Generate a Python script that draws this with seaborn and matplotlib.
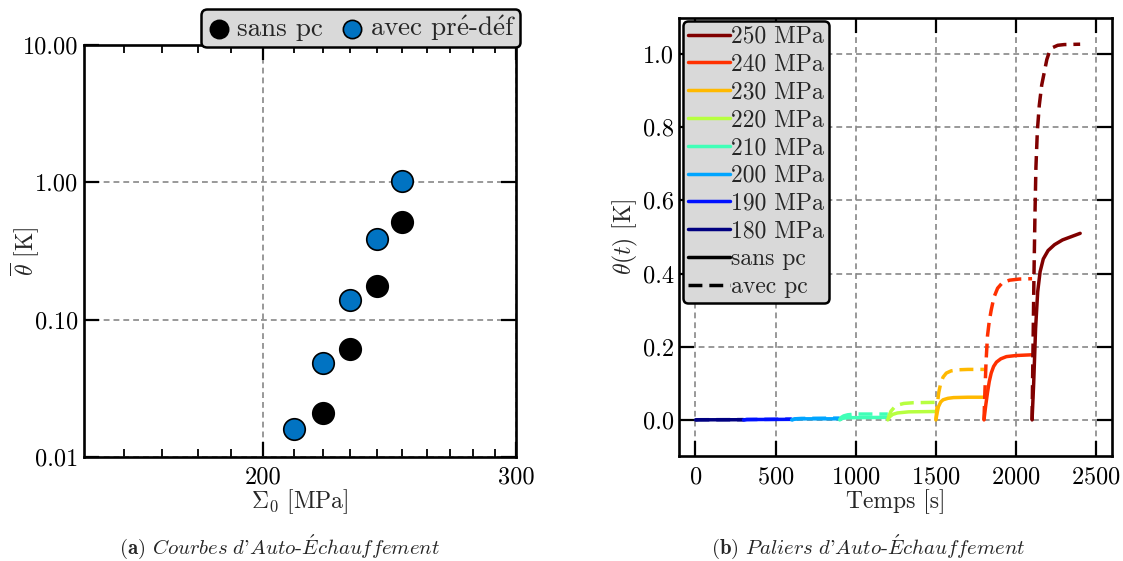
import numpy as np
import matplotlib
matplotlib.use("Agg")
import matplotlib.pyplot as plt
import matplotlib.ticker as mticker
from matplotlib.lines import Line2D
import seaborn as sns

# --- (a) self-heating curves: mean temperature vs stress amplitude ---
stress_sans = [220, 230, 240, 250]
theta_sans = [0.021, 0.061, 0.176, 0.51]
stress_avec = [210, 220, 230, 240, 250]
theta_avec = [0.016, 0.048, 0.138, 0.385, 1.027]

# --- (b) temperature steps, one block of 300 s per stress level ---
levels = [180, 190, 200, 210, 220, 230, 240, 250]
t_sans = [
    [0, 20, 300],
    [300, 320, 600],
    [600, 620, 650, 900],
    [900, 915, 950, 1200],
    [1200, 1210, 1230, 1260, 1330, 1500],
    [1500, 1508, 1516, 1530, 1545, 1575, 1610, 1700, 1800],
    [1800, 1811, 1822, 1833, 1845, 1860, 1878, 1905, 1940, 2000, 2100],
    [2100, 2110, 2122, 2135, 2150, 2170, 2200, 2240, 2290, 2345, 2400],
]
th_sans = [
    [0, 0.0003, 0.0005],
    [0, 0.001, 0.0015],
    [0, 0.002, 0.003, 0.003],
    [0, 0.004, 0.006, 0.007],
    [0, 0.008, 0.015, 0.019, 0.022, 0.023],
    [0, 0.02, 0.036, 0.049, 0.055, 0.059, 0.061, 0.062, 0.062],
    [0, 0.04, 0.075, 0.105, 0.128, 0.146, 0.158, 0.167, 0.173, 0.176, 0.178],
    [0, 0.1, 0.25, 0.35, 0.405, 0.44, 0.463, 0.479, 0.492, 0.501, 0.51],
]
t_avec = [
    [0, 20, 300],
    [300, 320, 600],
    [600, 620, 660, 900],
    [900, 910, 925, 950, 1000, 1200],
    [1200, 1208, 1220, 1240, 1265, 1300, 1360, 1500],
    [1500, 1508, 1518, 1530, 1545, 1565, 1595, 1640, 1700, 1800],
    [1800, 1806, 1813, 1822, 1833, 1845, 1862, 1885, 1915, 1960, 2020, 2100],
    [2100, 2106, 2112, 2118, 2124, 2133, 2145, 2160, 2176, 2192, 2207, 2230, 2260, 2300, 2400],
]
th_avec = [
    [0, 0.0005, 0.0008],
    [0, 0.001, 0.002],
    [0, 0.003, 0.004, 0.005],
    [0, 0.007, 0.011, 0.014, 0.016, 0.016],
    [0, 0.012, 0.024, 0.034, 0.041, 0.045, 0.047, 0.048],
    [0, 0.04, 0.075, 0.1, 0.117, 0.128, 0.134, 0.137, 0.138, 0.138],
    [0, 0.08, 0.16, 0.23, 0.27, 0.30, 0.335, 0.36, 0.375, 0.382, 0.385, 0.386],
    [0, 0.2, 0.4, 0.56, 0.69, 0.79, 0.86, 0.915, 0.95, 0.985, 1.005, 1.018, 1.024, 1.026, 1.027],
]

sns.set_theme(style="ticks")
plt.rcParams.update({
    "font.family": ["cmr10", "DejaVu Serif"],
    "mathtext.fontset": "cm",
    "axes.formatter.use_mathtext": True,
    "font.size": 17,
    "axes.labelsize": 17,
    "xtick.labelsize": 17.5,
    "ytick.labelsize": 17.5,
    "legend.fontsize": 17,
    "axes.linewidth": 1.9,
    "axes.edgecolor": "black",
    "xtick.direction": "in",
    "ytick.direction": "in",
    "xtick.top": True,
    "ytick.right": True,
    "xtick.major.size": 10.5,
    "ytick.major.size": 10.5,
    "xtick.major.width": 1.6,
    "ytick.major.width": 1.6,
    "xtick.minor.size": 5.5,
    "xtick.minor.width": 1.3,
    "xtick.color": "black",
    "ytick.color": "black",
    "xtick.major.pad": 7,
    "ytick.major.pad": 4,
})

GRID = dict(color="#888888", linestyle=(0, (3.5, 2.4)), linewidth=1.2)
BLUE = "#0173c2"
DASH = (0, (4, 2))

fig = plt.figure(figsize=(11.23, 5.61), dpi=100)
ax1 = fig.add_axes([0.0748, 0.1854, 0.3847, 0.7344])
ax2 = fig.add_axes([0.605, 0.1863, 0.3854, 0.7825])

# ---------- (a) ----------
sns.scatterplot(x=stress_sans, y=theta_sans, ax=ax1, color="black", edgecolor="black",
                s=240, linewidth=1.2, zorder=3, label="sans pc")
sns.scatterplot(x=stress_avec, y=theta_avec, ax=ax1, color=BLUE, edgecolor="black",
                s=240, linewidth=1.2, zorder=3,
                label=r"avec pr$\mathrm{\acute{e}}$-d$\mathrm{\acute{e}}$f")
ax1.set_xscale("log")
ax1.set_yscale("log")
ax1.set_xlim(150, 300)
ax1.set_ylim(0.01, 10)
ax1.xaxis.set_major_locator(mticker.FixedLocator([200, 300]))
ax1.xaxis.set_minor_locator(mticker.FixedLocator([160, 170, 180, 190, 210, 220, 230, 240,
                                                  250, 260, 270, 280, 290]))
ax1.xaxis.set_major_formatter(mticker.FuncFormatter(lambda v, p: f"{v:.0f}"))
ax1.xaxis.set_minor_formatter(mticker.NullFormatter())
ax1.yaxis.set_major_locator(mticker.FixedLocator([0.01, 0.1, 1, 10]))
ax1.yaxis.set_minor_locator(mticker.NullLocator())
ax1.yaxis.set_major_formatter(mticker.FuncFormatter(lambda v, p: f"{v:.2f}"))
ax1.grid(True, which="major", **GRID)
ax1.set_xlabel(r"$\Sigma_0$ [MPa]", labelpad=-1)
ax1.set_ylabel(r"$\overline{\theta}$ [K]")
ax1.yaxis.set_label_coords(-0.098, 0.5)
leg1 = ax1.legend(loc="lower right", bbox_to_anchor=(1.01, 0.995), ncol=2, frameon=True,
                  fancybox=True, facecolor="#d9d9d9", edgecolor="black", framealpha=1,
                  fontsize=19.5, handletextpad=0.15, columnspacing=0.6, borderpad=0.15,
                  borderaxespad=0, handlelength=1.0, markerscale=0.85)
leg1.get_frame().set_linewidth(1.8)

# ---------- (b) ----------
colors = [plt.cm.jet(v) for v in np.linspace(0, 1, len(levels))]
for i in range(len(levels)):
    sns.lineplot(x=t_sans[i], y=th_sans[i], ax=ax2, color=colors[i], linewidth=2.5,
                 estimator=None, sort=False, legend=False)
    sns.lineplot(x=t_avec[i], y=th_avec[i], ax=ax2, color=colors[i], linewidth=2.5,
                 linestyle=DASH, estimator=None, sort=False, legend=False)
ax2.set_xlim(-100, 2600)
ax2.set_ylim(-0.1, 1.1)
ax2.set_xticks([0, 500, 1000, 1500, 2000, 2500])
ax2.set_yticks([0.0, 0.2, 0.4, 0.6, 0.8, 1.0])
ax2.yaxis.set_major_formatter(mticker.FuncFormatter(lambda v, p: f"{v:.1f}"))
ax2.grid(True, **GRID)
ax2.set_xlabel("Temps [s]", labelpad=1)
ax2.set_ylabel(r"$\theta(t)$ [K]")
ax2.yaxis.set_label_coords(-0.092, 0.5)

handles = [Line2D([], [], color=colors[i], lw=2.5) for i in range(len(levels))][::-1]
labels = [f"{lv} MPa" for lv in levels][::-1]
handles += [Line2D([], [], color="black", lw=2.5),
            Line2D([], [], color="black", lw=2.5, linestyle=DASH)]
labels += ["sans pc", "avec pc"]
leg2 = ax2.legend(handles, labels, loc="upper left", frameon=True, fancybox=True,
                  facecolor="#d9d9d9", edgecolor="black", framealpha=1,
                  handlelength=1.8, handletextpad=0.05, labelspacing=0.24,
                  borderpad=0.2, borderaxespad=0.15)
leg2.get_frame().set_linewidth(1.8)

# ---------- captions ----------
fig.text(0.249, 0.025, r"$\mathbf{(a)}$ $\mathit{Courbes\ d}$'$\mathit{Auto}$-$\mathit{\acute{E}chauffement}$",
         ha="center", va="center", fontsize=15)
fig.text(0.773, 0.025, r"$\mathbf{(b)}$ $\mathit{Paliers\ d}$'$\mathit{Auto}$-$\mathit{\acute{E}chauffement}$",
         ha="center", va="center", fontsize=15)

fig.savefig("out.png", dpi=100)
